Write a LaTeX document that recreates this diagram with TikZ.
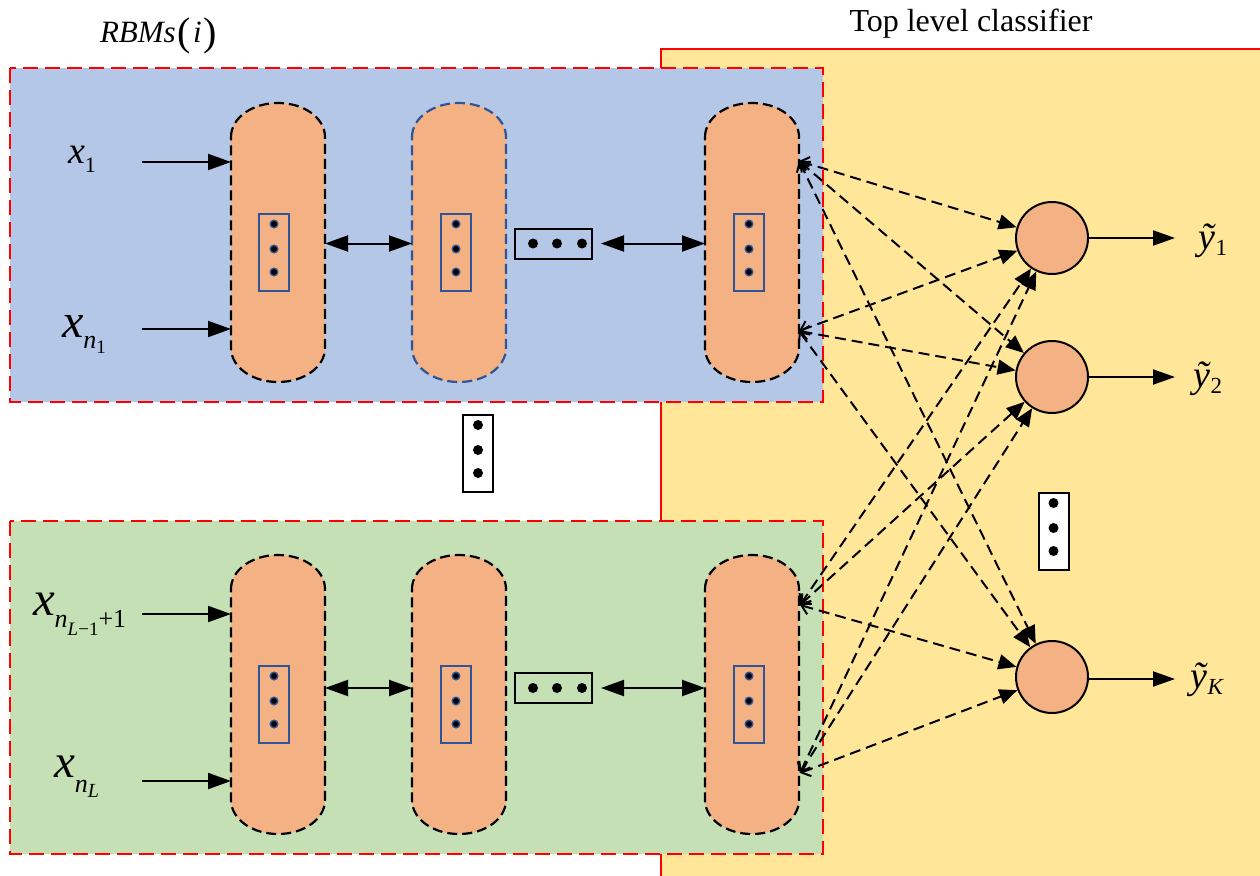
\documentclass[tikz,border=0pt]{standalone}
\usepackage{fontspec}
\setmainfont{Liberation Serif}
\usetikzlibrary{arrows.meta,calc}
\definecolor{bluebg}{HTML}{B4C7E7}
\definecolor{greenbg}{HTML}{C5E0B4}
\definecolor{yellowbg}{HTML}{FFE699}
\definecolor{pillfill}{HTML}{F4B183}
\definecolor{redline}{HTML}{FF0000}
\definecolor{boxblue}{HTML}{2F5597}
\newcommand\fs[1]{\fontsize{#1}{#1}\selectfont}
% pill: style, L, R, T, B
\newcommand\pill[5]{\draw[#1] (#2,#4+34) .. controls (#2,#4+15) and (#2+21,#4) .. (#2+47,#4) .. controls (#2+73,#4) and (#3,#4+15) .. (#3,#4+34) -- (#3,#5-34) .. controls (#3,#5-15) and (#2+73,#5) .. (#2+47,#5) .. controls (#2+21,#5) and (#2,#5-15) .. (#2,#5-34) -- cycle;}
% inner vertical dots box: name, x, y
\newcommand\innerdots[3]{\node[innerbox] (#1) at (#2,#3) {};
  \foreach \dy in {-28.5,-3.5,19.5} {\filldraw[innerdot] ($(#1.center)+(0,\dy)$) circle (3.8pt);}}
% outer vertical dots box: name, x, y
\newcommand\outerdotsV[3]{\node[outerboxV] (#1) at (#2,#3) {};
  \foreach \dy in {-28.5,-3.5,19.5} {\fill ($(#1.center)+(0,\dy)$) circle (5pt);}}
% horizontal dots box: name, x, y
\newcommand\outerdotsH[3]{\node[outerboxH] (#1) at (#2,#3) {};
  \foreach \dx in {-20.5,3.5,28.5} {\fill ($(#1.center)+(\dx,0)$) circle (5pt);}}
\tikzset{
  reddash/.style={draw=redline, line width=2.4pt, dash pattern=on 15pt off 7pt},
  pillstyle/.style={fill=pillfill, line width=2.2pt, dash pattern=on 10pt off 5pt},
  pillnode/.style={inner sep=0, outer sep=0, minimum width=94pt, minimum height=279pt},
  innerbox/.style={draw=boxblue, line width=1.6pt, minimum width=30pt, minimum height=77pt, inner sep=0},
  innerdot/.style={fill=black, draw=boxblue, line width=1.4pt},
  outerboxV/.style={draw=black, fill=white, line width=2pt, minimum width=30pt, minimum height=77pt, inner sep=0},
  outerboxH/.style={draw=black, line width=2pt, minimum width=77pt, minimum height=30pt, inner sep=0},
  arr/.style={line width=2pt, -{Triangle[length=23pt,width=16pt]}},
  darr/.style={line width=2pt, {Triangle[length=23pt,width=16pt]}-{Triangle[length=23pt,width=16pt]}},
  outarr/.style={line width=2pt, -{Triangle[length=22pt,width=15pt]}},
  dasharr/.style={line width=2pt, dash pattern=on 11pt off 6pt, {Straight Barb[length=8pt,width=14pt]}-{Triangle[length=18pt,width=15pt]}},
  neuron/.style={circle, draw=black, fill=pillfill, line width=2pt, minimum size=72pt, inner sep=0},
  lbl/.style={inner sep=0, outer sep=0, anchor=base west},
}
\begin{document}
\begin{tikzpicture}[x=1pt,y=-1pt]
\useasboundingbox (0,0) rectangle (1260,875);
\clip (0,0) rectangle (1260,875);
\fill[white] (0,0) rectangle (1260,875);
% top level classifier region
\fill[yellowbg] (661,49) rectangle (1270,885);
\draw[redline, line width=1.8pt] (661,885) -- (661,49) -- (1270,49);
% RBM group boxes
\path[reddash, fill=bluebg] (10,68) rectangle (823,402);
\path[reddash, fill=greenbg] (10,521) rectangle (823,854);
% titles
\node[anchor=base] (title) at (971,32) {\fs{32}Top level classifier};
\node[lbl] (rbm) at (100,42) {{\fs{31}\textit{RBMs}}\hspace{2pt}\raisebox{-3pt}{\fs{40}(}{\fs{31}\hspace{2pt}\textit{i}\hspace{2pt}}\raisebox{-3pt}{\fs{40})}};
% pills, top group
\pill{pillstyle, draw=black}{231}{325}{103}{382}
\pill{pillstyle, draw=boxblue}{412}{506}{103}{382}
\pill{pillstyle, draw=black}{705}{799}{103}{382}
\node[pillnode] (p11) at (278,242.5) {};
\node[pillnode] (p12) at (459,242.5) {};
\node[pillnode] (p13) at (752,242.5) {};
% pills, bottom group
\pill{pillstyle, draw=black}{231}{325}{555}{834}
\pill{pillstyle, draw=black}{412}{506}{555}{834}
\pill{pillstyle, draw=black}{705}{799}{555}{834}
\node[pillnode] (p21) at (278,694.5) {};
\node[pillnode] (p22) at (459,694.5) {};
\node[pillnode] (p23) at (752,694.5) {};
% inner dots
\innerdots{d11}{274}{252.5}
\innerdots{d12}{456}{252.5}
\innerdots{d13}{749}{252.5}
\innerdots{d21}{274}{704.5}
\innerdots{d22}{456}{704.5}
\innerdots{d23}{749}{704.5}
% horizontal ellipsis boxes
\outerdotsH{hd1}{553.5}{243.5}
\outerdotsH{hd2}{553.5}{688}
% vertical ellipsis boxes
\outerdotsV{vd1}{478}{453.5}
\outerdotsV{vd2}{1053.5}{531.5}
% connections between layers
\draw[darr] (p11.east |- hd1.center) -- (p12.west |- hd1.center);
\draw[darr, shorten <=8pt] (hd1.east) -- (p13.west |- hd1.center);
\draw[darr] (p21.east |- hd2.center) -- (p22.west |- hd2.center);
\draw[darr, shorten <=8pt] (hd2.east) -- (p23.west |- hd2.center);
% inputs
\coordinate (i1) at (142,162);
\coordinate (i2) at (142,329);
\coordinate (i3) at (142,614);
\coordinate (i4) at (142,781);
\draw[arr] (i1) -- (p11.west |- i1);
\draw[arr] (i2) -- (p11.west |- i2);
\draw[arr] (i3) -- (p21.west |- i3);
\draw[arr] (i4) -- (p21.west |- i4);
\node[lbl] (lx1) at (68,163) {{\fs{38}\textit{x}}\raisebox{-9pt}{\fs{22}1}};
\node[lbl] (lx2) at (62,337) {{\fs{48}\textit{x}}\raisebox{-11pt}{{\fs{26}\textit{n}}\raisebox{-5pt}{\fs{19}1}}};
\node[lbl] (lx3) at (33,615) {{\fs{49}\textit{x}}\raisebox{-12pt}{{\fs{26}\textit{n}}\raisebox{-8pt}{{\fs{19}\textit{L}−1}}{\fs{26}+1}}};
\node[lbl] (lx4) at (54,777) {{\fs{47}\textit{x}}\raisebox{-15pt}{{\fs{26}\textit{n}}\raisebox{-5pt}{\fs{20}\textit{L}}}};
% output neurons
\node[neuron] (c1) at (1052,238) {};
\node[neuron] (c2) at (1052,377) {};
\node[neuron] (cK) at (1052,677) {};
\coordinate (o1) at (1175,238);
\coordinate (o2) at (1175,377);
\coordinate (oK) at (1175,679);
\draw[outarr] (c1) -- (o1);
\draw[outarr] (c2) -- (o2);
\draw[outarr] (cK.east |- oK) -- (oK);
\node[lbl] (ly1) at (1198,249) {{\fs{38}\textit{ỹ}}\raisebox{-6pt}{\fs{23}1}};
\node[lbl] (ly2) at (1193,387) {{\fs{38}\textit{ỹ}}\raisebox{-6pt}{\fs{23}2}};
\node[lbl] (lyK) at (1190,688) {{\fs{38}\textit{ỹ}}\raisebox{-6pt}{\fs{23}\textit{K}}};
% dashed full connections
\coordinate (s1) at (799,161);
\coordinate (s2) at (799,331);
\coordinate (s3) at (800,605);
\coordinate (s4) at (800,773);
\foreach \s in {s1,s2,s3,s4} {
  \foreach \c in {c1,c2,cK} {
    \draw[dasharr] (\s) -- (\c);
  }
}
\end{tikzpicture}
\end{document}
